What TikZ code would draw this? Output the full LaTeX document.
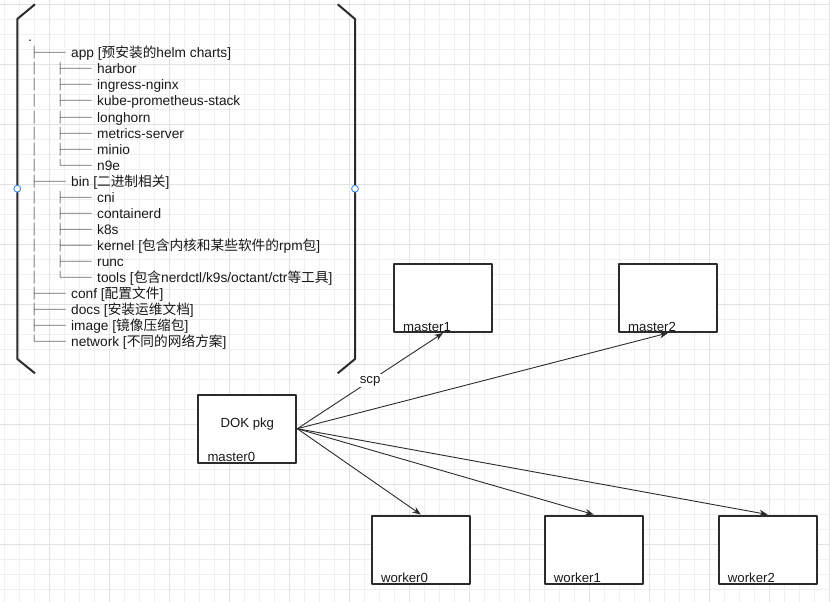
\documentclass[tikz,border=0pt]{standalone}
\usepackage{fontspec}
\setmainfont{Liberation Sans}
\newfontfamily\cjk{Noto Sans CJK SC}
\usetikzlibrary{arrows.meta}

\definecolor{ink}{HTML}{2B2B2B}
\definecolor{gridminor}{HTML}{F0F0F0}
\definecolor{gridmajor}{HTML}{E2E2E2}
\definecolor{handle}{HTML}{3D8BE6}

% chinese parts of a label, and the tree glyphs
\newcommand{\zh}[1]{{\cjk #1}}
\newcommand{\glyphs}[1]{{\cjk\fontsize{12.7}{15}\selectfont #1}}
\newcommand{\tee}{\makebox[43.35pt][l]{\glyphs{├──}}}
\newcommand{\corner}{\makebox[43.35pt][l]{\glyphs{└──}}}
\newcommand{\subtee}{\makebox[26pt][l]{\glyphs{│}}\tee}
\newcommand{\subcorner}{\makebox[26pt][l]{\glyphs{│}}\corner}

\tikzset{
  row/.style={anchor=base west, inner sep=0pt, text=black!90, font=\fontsize{13.7}{16}\selectfont},
  host/.style={draw=ink, line width=2pt, fill=white, inner sep=0pt,
    minimum width=98pt, minimum height=68pt},
  hostname/.style={anchor=base west, inner sep=0pt, text=black!90, font=\fontsize{13.2}{15}\selectfont},
  link/.style={draw=ink, line width=0.9pt, -{Stealth[length=8.5pt,width=6.5pt]}},
  tag/.style={fill=white, inner sep=1.5pt, text=black!90, font=\fontsize{13.2}{15}\selectfont},
}

\begin{document}
\begin{tikzpicture}[x=1pt, y=-1pt, line join=round]
  \useasboundingbox (0,0) rectangle (830,602);
  \fill[white] (0,0) rectangle (830,602);
  % background grid
  \foreach \x in {4,19,...,829} \draw[gridminor, line width=0.9pt] (\x,0) -- (\x,602);
  \foreach \y in {4,19,...,599} \draw[gridminor, line width=0.9pt] (0,\y) -- (830,\y);
  \foreach \x in {49,109,...,829} \draw[gridmajor, line width=0.9pt] (\x,0) -- (\x,602);
  \foreach \y in {4,64,...,599} \draw[gridmajor, line width=0.9pt] (0,\y) -- (830,\y);

  % bracket round the package tree
  \draw[ink, line width=2pt] (35,4.3) -- (17.3,19) -- (17.3,359) -- (35,373.3);
  \draw[ink, line width=2pt] (337.7,4.3) -- (355,19) -- (355,359) -- (337.7,373.3);
  \draw[handle, fill=white, line width=0.9pt] (17.3,188.7) circle[radius=3.4pt];
  \draw[handle, fill=white, line width=0.9pt] (355,188.7) circle[radius=3.4pt];

  % package tree
  \node[row] (root) at (28,41.8) {.};
  \foreach \pre/\txt [count=\i] in {
      \tee/{app [\zh{预安装的}helm charts]},
      \subtee/{harbor},
      \subtee/{ingress-nginx},
      \subtee/{kube-prometheus-stack},
      \subtee/{longhorn},
      \subtee/{metrics-server},
      \subtee/{minio},
      \subcorner/{n9e},
      \tee/{bin [\zh{二进制相关}]},
      \subtee/{cni},
      \subtee/{containerd},
      \subtee/{k8s},
      \subtee/{kernel [\zh{包含内核和某些软件的}rpm\zh{包}]},
      \subtee/{runc},
      \subcorner/{tools [\zh{包含}nerdctl/k9s/octant/ctr\zh{等工具}]},
      \tee/{conf [\zh{配置文件}]},
      \tee/{docs [\zh{安装运维文档}]},
      \tee/{image [\zh{镜像压缩包}]},
      \corner/{network [\zh{不同的网络方案}]}}
    \node[row] (row\i) at (27.65,{41.8+16.05*\i}) {\pre\txt};

  % hosts
  \node[host] (master0) at (247.3,428.7) {};
  \node[host] (master1) at (443,298) {};
  \node[host] (master2) at (668,298) {};
  \node[host] (worker0) at (420.8,549.5) {};
  \node[host] (worker1) at (593.7,549.5) {};
  \node[host] (worker2) at (767.7,549.5) {};
  \foreach \h in {master0,master1,master2,worker0,worker1,worker2}
    \node[hostname] (\h-name) at ([xshift=10pt,yshift=2pt]\h.south west) {\h};
  \node[text=black!90, font=\fontsize{13.2}{15}\selectfont] (pkg) at ([yshift=4.5pt]master0.center) {DOK pkg};

  % copies
  \draw[link] (master0.east) -- node[tag] (scp) {scp} (master1.south);
  \draw[link] (master0.east) -- (master2.south);
  \foreach \t in {worker0,worker1,worker2} \draw[link] (master0.east) -- (\t.north);
\end{tikzpicture}
\end{document}
